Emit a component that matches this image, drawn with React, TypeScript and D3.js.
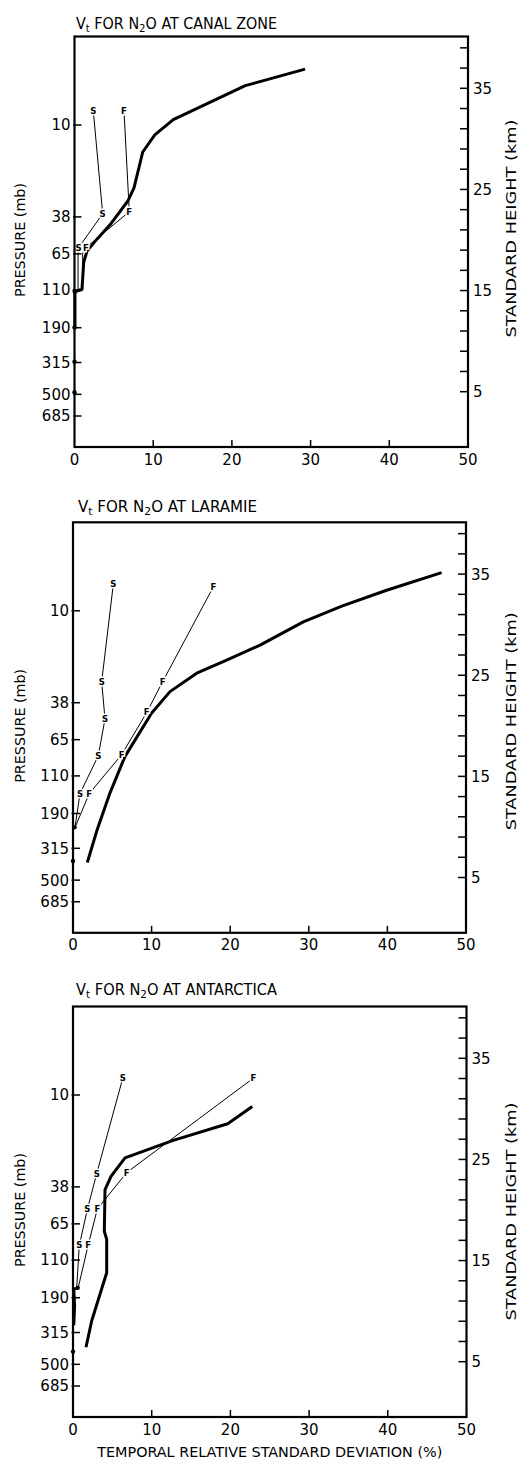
import React from "react";
import * as d3 from "d3";

// tick values
const pressureTicks = [10, 38, 65, 110, 190, 315, 500, 685];
const xTicks = [0, 10, 20, 30, 40, 50];
const heightTicks = [5, 7, 9, 11, 13, 15, 17, 19, 21, 23, 25, 27, 29, 31, 33, 35, 37, 39];
const heightLabels = [5, 15, 25, 35];

// all series: [temporal relative std dev (%), standard height (km)]
const canalTotal = [
  [29.3, 36.9], [21.7, 35.26], [12.55, 31.9], [10.2, 30.4], [8.67, 28.7], [7.56, 25.15],
  [6.76, 23.83], [4.51, 21.5], [2.82, 20.06], [1.59, 18.9], [1.17, 17.8], [0.95, 15.14],
  [0.32, 14.96], [0.06, 14.8], [0.06, 11.2],
];
const canalS = [[2.39, 32.76], [3.58, 22.6], [0.53, 19.25], [0.45, 18.7], [0.45, 15.0], [0.06, 14.9]];
const canalF = [[6.29, 32.76], [6.96, 22.8], [1.46, 19.25], [1.04, 18.7], [1.04, 15.0], [0.06, 14.9]];
const canalSLabels = [0, 1, 2];
const canalFLabels = [0, 1, 2];
const canalDots = [[0, 14.96], [0, 11.35], [0, 7.96], [0, 4.95]];

const laramieTotal = [
  [46.9, 35.15], [39.9, 33.4], [34.2, 31.83], [29.3, 30.28], [23.8, 27.98], [19.55, 26.5],
  [15.74, 25.2], [12.34, 23.38], [10.01, 21.26], [6.62, 16.98], [4.71, 13.37], [3.02, 9.59],
  [1.82, 6.48],
];
const laramieS = [[5.13, 34.0], [3.65, 24.37], [4.07, 20.67], [3.22, 17.05], [0.89, 13.3], [0.25, 9.96]];
const laramieF = [[17.85, 33.73], [11.41, 24.37], [9.38, 21.32], [6.19, 17.15], [2.07, 13.3], [0.25, 9.93]];
const laramieSLabels = [0, 1, 2, 3, 4];
const laramieFLabels = [0, 1, 2, 3, 4];
const laramieDots = [[0.2, 9.96], [0, 6.63]];

const antarcticTotal = [
  [22.78, 30.23], [19.66, 28.53], [12.74, 26.88], [6.61, 25.15], [4.83, 23.33], [4.07, 22.02],
  [3.98, 17.9], [4.28, 17.1], [4.28, 13.8], [2.38, 9.05], [1.65, 6.43],
];
const antarcticNearZero = [[0.7, 12.3], [0.1, 12.2], [0.2, 10.5], [0.1, 8.6]];
const antarcticS = [[6.32, 33.03], [3.01, 23.6], [1.82, 20.05], [0.8, 16.5], [0.47, 12.34]];
const antarcticF = [[22.91, 33.03], [6.82, 23.7], [3.09, 20.1], [1.94, 16.57], [0.67, 12.34]];
const antarcticSLabels = [0, 1, 2, 3];
const antarcticFLabels = [0, 1, 2, 3];
const antarcticDots = [[0.6, 12.3], [0, 6.0]];

const FONT = "'DejaVu Sans', sans-serif";

const Panel = ({ top, left, right, place, titleX, titleY, titleLen, total, extra, s, f, sLab, fLab, dots, hCenter, xLabel }) => {
  const bottom = top + 410.5;
  const x = d3.scaleLinear().domain([0, 50]).range([left, right]);
  const yKm = d3.scaleLinear().domain([5, 35]).range([top + 355.2, top + 51.8]);
  const yP = d3.scaleLog().domain([10, 685]).range([top + 88.5, top + 379.5]);
  const line = d3.line().x((d) => x(d[0])).y((d) => yKm(d[1]));

  const letters = (pts, idx, ch) =>
    idx.map((i) => (
      <text key={ch + i} x={x(pts[i][0])} y={yKm(pts[i][1])} textAnchor="middle" dominantBaseline="central"
        fontSize={8.5} fontWeight="bold" fill="#000" stroke="#fff" strokeWidth={3} paintOrder="stroke">
        {ch}
      </text>
    ));

  return (
    <g fontFamily={FONT}>
      {/* title */}
      <text x={titleX} y={titleY} fontSize={15.5} fontStretch="condensed" textLength={titleLen} lengthAdjust="spacingAndGlyphs">
        V<tspan dy={3} fontSize={11}>t</tspan>
        <tspan dy={-3}>{"  FOR N"}</tspan>
        <tspan dy={3} fontSize={11}>2</tspan>
        <tspan dy={-3}>{"O AT " + place}</tspan>
      </text>

      {/* thin S and F lines */}
      <path d={line(s)} fill="none" stroke="#000" strokeWidth={1} />
      <path d={line(f)} fill="none" stroke="#000" strokeWidth={1} />

      {/* main curve */}
      <path d={line(total)} fill="none" stroke="#000" strokeWidth={3} strokeLinejoin="round" />
      {extra && <path d={line(extra)} fill="none" stroke="#000" strokeWidth={3} strokeLinejoin="round" />}

      {dots.map((d, i) => (
        <circle key={i} cx={x(d[0])} cy={yKm(d[1])} r={2.2} fill="#000" />
      ))}

      {letters(s, sLab, "S")}
      {letters(f, fLab, "F")}

      {/* frame */}
      <rect x={left} y={top} width={right - left} height={bottom - top} fill="none" stroke="#000" strokeWidth={2.2} />

      {/* left pressure axis */}
      {pressureTicks.map((p) => (
        <g key={p}>
          <line x1={left - 1.5} x2={left + 7} y1={yP(p)} y2={yP(p)} stroke="#000" strokeWidth={1.5} />
          <text x={left - 4} y={yP(p)} dy="0.36em" textAnchor="end" fontSize={15}>{p}</text>
        </g>
      ))}
      <text transform={`translate(25,${top + 203.5}) rotate(-90)`} textAnchor="middle" fontSize={14}
        fontStretch="condensed" textLength={114} lengthAdjust="spacingAndGlyphs">PRESSURE  (mb)</text>

      {/* right height axis */}
      {heightTicks.map((h) => (
        <line key={h} x1={right - 8} x2={right} y1={yKm(h)} y2={yKm(h)} stroke="#000" strokeWidth={1.5} />
      ))}
      {heightLabels.map((h) => (
        <text key={h} x={right + 5} y={yKm(h)} dy="0.36em" fontSize={15}>{h}</text>
      ))}
      <text transform={`translate(516,${top + hCenter}) rotate(-90)`} textAnchor="middle" fontSize={14}
        fontStretch="condensed" textLength={218} lengthAdjust="spacingAndGlyphs">STANDARD HEIGHT  (km)</text>

      {/* bottom axis */}
      {xTicks.map((t) => (
        <g key={t}>
          {t > 0 && t < 50 && (
            <line x1={x(t)} x2={x(t)} y1={bottom} y2={bottom - 7} stroke="#000" strokeWidth={1.5} />
          )}
          <text x={x(t)} y={bottom + 17.5} textAnchor="middle" fontSize={15}>{t}</text>
        </g>
      ))}
      {xLabel && (
        <text x={(left + right) / 2} y={bottom + 40} textAnchor="middle" fontSize={14.5} fontStretch="condensed"
          textLength={345} lengthAdjust="spacingAndGlyphs">TEMPORAL RELATIVE STANDARD DEVIATION  (%)</text>
      )}
    </g>
  );
};

const App = () => (
  <svg width={519} height={1464} style={{ position: "absolute", left: 0, top: 0, background: "#fff" }}>
    <rect width={519} height={1464} fill="#fff" />
    <Panel top={36.5} left={74.5} right={468} place="CANAL ZONE" titleX={76} titleY={29.3} titleLen={201}
      total={canalTotal} s={canalS} f={canalF} sLab={canalSLabels} fLab={canalFLabels} dots={canalDots} hCenter={192} />
    <Panel top={522.3} left={73} right={466} place="LARAMIE" titleX={78} titleY={511.7} titleLen={179}
      total={laramieTotal} s={laramieS} f={laramieF} sLab={laramieSLabels} fLab={laramieFLabels} dots={laramieDots} hCenter={199} />
    <Panel top={1006.5} left={73} right={466.5} place="ANTARCTICA" titleX={76} titleY={995} titleLen={201}
      total={antarcticTotal} extra={antarcticNearZero} s={antarcticS} f={antarcticF} sLab={antarcticSLabels}
      fLab={antarcticFLabels} dots={antarcticDots} hCenter={205} xLabel />
  </svg>
);

export default App;
